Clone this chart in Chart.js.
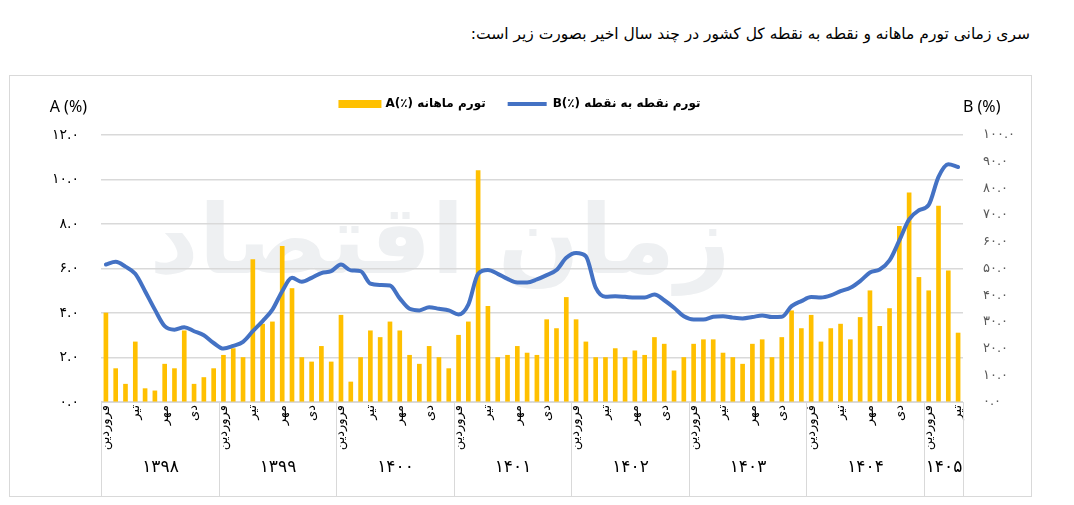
<!DOCTYPE html>
<html lang="fa">
<head>
<meta charset="utf-8">
<script src="https://cdn.jsdelivr.net/npm/chart.js@4.4.1/dist/chart.umd.min.js"></script>
<style>
  html, body { margin: 0; padding: 0; background: #fff; }
  body { width: 1074px; height: 505px; position: relative; overflow: hidden; }
  #title {
    position: absolute; right: 44px; top: 25px;
    direction: rtl; font-family: 'DejaVu Sans', sans-serif; font-size: 15.5px; color: #000;
  }
  #frame {
    position: absolute; left: 9px; top: 75px; width: 1021px; height: 420px;
    border: 1px solid #d9d9d9;
  }
  #chart { display: block; }
</style>
</head>
<body>
<div id="title">سری زمانی تورم ماهانه و نقطه به نقطه کل کشور در چند سال اخیر بصورت زیر است:</div>
<div id="frame"><canvas id="chart" width="1021" height="420"></canvas></div>

<script>
'use strict';

// ── data ───────────────────────────────────────────────────────
const years = ['۱۳۹۸', '۱۳۹۹', '۱۴۰۰', '۱۴۰۱', '۱۴۰۲', '۱۴۰۳', '۱۴۰۴', '۱۴۰۵'];
const monthsPerYear = [12, 12, 12, 12, 12, 12, 12, 4];
const monthNames = ['فروردین', 'اردیبهشت', 'خرداد', 'تیر', 'مرداد', 'شهریور',
                    'مهر', 'آبان', 'آذر', 'دی', 'بهمن', 'اسفند'];

// A: monthly inflation (%)
const monthlyA = [
  4.0, 1.5, 0.8, 2.7, 0.6, 0.5, 1.7, 1.5, 3.2, 0.8, 1.1, 1.5,   // 1398
  2.1, 2.4, 2.0, 6.4, 3.5, 3.6, 7.0, 5.1, 2.0, 1.8, 2.5, 1.8,   // 1399
  3.9, 0.9, 2.0, 3.2, 2.9, 3.6, 3.2, 2.1, 1.7, 2.5, 2.0, 1.5,   // 1400
  3.0, 3.6, 10.4, 4.3, 2.0, 2.1, 2.5, 2.2, 2.1, 3.7, 3.3, 4.7,  // 1401
  3.7, 2.7, 2.0, 2.0, 2.4, 2.0, 2.3, 2.1, 2.9, 2.6, 1.4, 2.0,   // 1402
  2.6, 2.8, 2.8, 2.2, 2.0, 1.7, 2.6, 2.8, 2.0, 2.9, 4.1, 3.3,   // 1403
  3.9, 2.7, 3.3, 3.5, 2.8, 3.8, 5.0, 3.4, 4.2, 7.9, 9.4, 5.6,   // 1404
  5.0, 8.8, 5.9, 3.1                                            // 1405
];

// B: point-to-point inflation (%)
const pointB = [
  51.5, 52.5, 50.7, 48.0, 41.5, 34.6, 28.4, 27.1, 28.0, 26.5, 25.0, 22.1,
  20.0, 21.0, 22.5, 26.5, 30.3, 34.6, 41.5, 46.5, 45.0, 46.5, 48.3, 49.0,
  51.5, 49.3, 49.0, 44.3, 43.8, 43.6, 38.8, 34.9, 34.3, 35.5, 34.9, 34.3,
  32.8, 36.5, 48.0, 49.4, 48.0, 46.1, 44.8, 44.8, 45.9, 47.5, 49.4, 54.0,
  55.8, 54.6, 42.8, 39.4, 39.6, 39.4, 39.1, 39.1, 40.3, 38.1, 35.3, 32.1,
  30.9, 30.9, 31.9, 32.1, 31.6, 31.3, 31.8, 32.4, 31.8, 31.9, 35.9, 37.8,
  39.3, 39.1, 39.9, 41.5, 42.8, 45.3, 48.5, 49.6, 53.0, 60.5, 68.4, 71.8,
  73.8, 84.3, 89.0, 88.0
];

const seriesNames = ['A(٪) تورم ماهانه', 'B(٪) تورم نقطه به نقطه'];
const axisTitles = ['A (%)', 'B (%)'];
const shownMonths = ['فروردین', 'تیر', 'مهر', 'دی'];
const watermark = 'زمان اقتصاد';

// ── helpers ────────────────────────────────────────────────────
const YELLOW = '#FFC000';
const BLUE   = '#4472C4';
const GRID   = '#d9d9d9';
const FA_FONT = "'DejaVu Sans', sans-serif";

const toFa = s => String(s).replace(/\d/g, d => '۰۱۲۳۴۵۶۷۸۹'[d]);

const labels = [];
monthsPerYear.forEach(n => {
  for (let m = 0; m < n; m++) labels.push(monthNames[m]);
});

// extra room between the legend and the plot (legend padding is symmetric)
const legendGap = {
  id: 'legendGap',
  afterInit(chart) {
    const lg = chart.legend;
    if (!lg) return;
    const fit = lg.fit;
    lg.fit = function () {
      fit.call(this);
      this.height += 15;
    };
  }
};

// faint watermark behind everything
const watermarkPlugin = {
  id: 'watermark',
  beforeDraw(chart) {
    const { ctx } = chart;
    ctx.save();
    ctx.fillStyle = '#eef0f2';
    ctx.font = `bold 96px ${FA_FONT}`;
    ctx.textAlign = 'center';
    ctx.textBaseline = 'middle';
    ctx.fillText(watermark, 430, 172);
    ctx.restore();
  }
};

// year boxes under the month labels + axis titles
const yearPlugin = {
  id: 'yearBoxes',
  afterDraw(chart) {
    const { ctx, chartArea } = chart;
    const xs = chart.scales.x;
    const half = (xs.getPixelForValue(1) - xs.getPixelForValue(0)) / 2;
    const bottom = chart.height;

    ctx.save();
    ctx.strokeStyle = GRID;
    ctx.lineWidth = 1;
    ctx.fillStyle = '#000';
    ctx.font = `17px ${FA_FONT}`;
    ctx.textAlign = 'center';
    ctx.textBaseline = 'middle';

    let start = 0;
    years.forEach((yr, i) => {
      const n = monthsPerYear[i];
      const left = Math.round(xs.getPixelForValue(start) - half) + 0.5;
      const right = Math.round(xs.getPixelForValue(start + n - 1) + half) + 0.5;
      ctx.beginPath();
      ctx.moveTo(left, chartArea.bottom);
      ctx.lineTo(left, bottom);
      if (i === years.length - 1) {
        ctx.moveTo(right, chartArea.bottom);
        ctx.lineTo(right, bottom);
      }
      ctx.stroke();
      ctx.fillText(yr, (left + right) / 2, chartArea.bottom + 66);
      start += n;
    });

    // axis titles, horizontal above the tick columns
    ctx.font = "16px 'Noto Sans', sans-serif";
    ctx.textAlign = 'right';
    ctx.fillText(axisTitles[0], chartArea.left - 14, 31);
    ctx.textAlign = 'left';
    ctx.fillText(axisTitles[1], chartArea.right, 31);
    ctx.restore();
  }
};

// ── chart ──────────────────────────────────────────────────────
new Chart(document.getElementById('chart').getContext('2d'), {
  data: {
    labels,
    datasets: [
      {
        type: 'bar',
        label: seriesNames[0],
        data: monthlyA,
        backgroundColor: YELLOW,
        barThickness: 4,
        yAxisID: 'yA',
        order: 1,
      },
      {
        type: 'line',
        label: seriesNames[1],
        data: pointB,
        borderColor: BLUE,
        backgroundColor: BLUE,
        borderWidth: 4,
        pointRadius: 0,
        cubicInterpolationMode: 'monotone',
        borderJoinStyle: 'round',
        borderCapStyle: 'round',
        yAxisID: 'yB',
        order: 0,
      },
    ],
  },
  options: {
    responsive: false,
    animation: false,
    layout: { padding: { top: 0 } },
    plugins: {
      tooltip: { enabled: false },
      legend: {
        position: 'top',
        labels: {
          padding: 22,
          boxWidth: 39,
          boxHeight: 4,
          color: '#000',
          font: { family: FA_FONT, size: 12, weight: 'bold' },
          generateLabels: chart => chart.data.datasets.map((ds, i) => ({
            text: ds.label,
            datasetIndex: i,
            fillStyle: ds.type === 'bar' ? YELLOW : BLUE,
            strokeStyle: ds.type === 'bar' ? YELLOW : BLUE,
            lineWidth: ds.type === 'bar' ? 4 : 0,
            hidden: false,
            fontColor: '#000',
          })),
        },
      },
    },
    scales: {
      x: {
        grid: { display: false, drawTicks: false },
        border: { display: true, color: GRID, width: 1 },
        ticks: {
          autoSkip: false,
          minRotation: 90,
          maxRotation: 90,
          padding: 3,
          color: '#000',
          font: { family: FA_FONT, size: 13 },
          callback(value) {
            const name = this.getLabelForValue(value);
            return shownMonths.includes(name) ? name : '';
          },
        },
        afterFit: s => { s.height = 94; },
      },
      yA: {
        position: 'left',
        min: 0,
        max: 12,
        grid: { color: GRID, lineWidth: 1.5, drawTicks: false },
        border: { display: false },
        ticks: {
          stepSize: 2,
          padding: 22,
          color: '#000',
          font: { family: FA_FONT, size: 14 },
          callback: v => toFa(v.toFixed(1)),
        },
        afterFit: s => { s.width = 91; },
      },
      yB: {
        position: 'right',
        min: 0,
        max: 100,
        grid: { display: false, drawTicks: false },
        border: { display: false },
        ticks: {
          stepSize: 10,
          padding: 20,
          color: '#595959',
          font: { family: FA_FONT, size: 13 },
          callback: v => toFa(v.toFixed(1)),
        },
        afterFit: s => { s.width = 68; },
      },
    },
  },
  plugins: [legendGap, watermarkPlugin, yearPlugin],
});
</script>
</body>
</html>
